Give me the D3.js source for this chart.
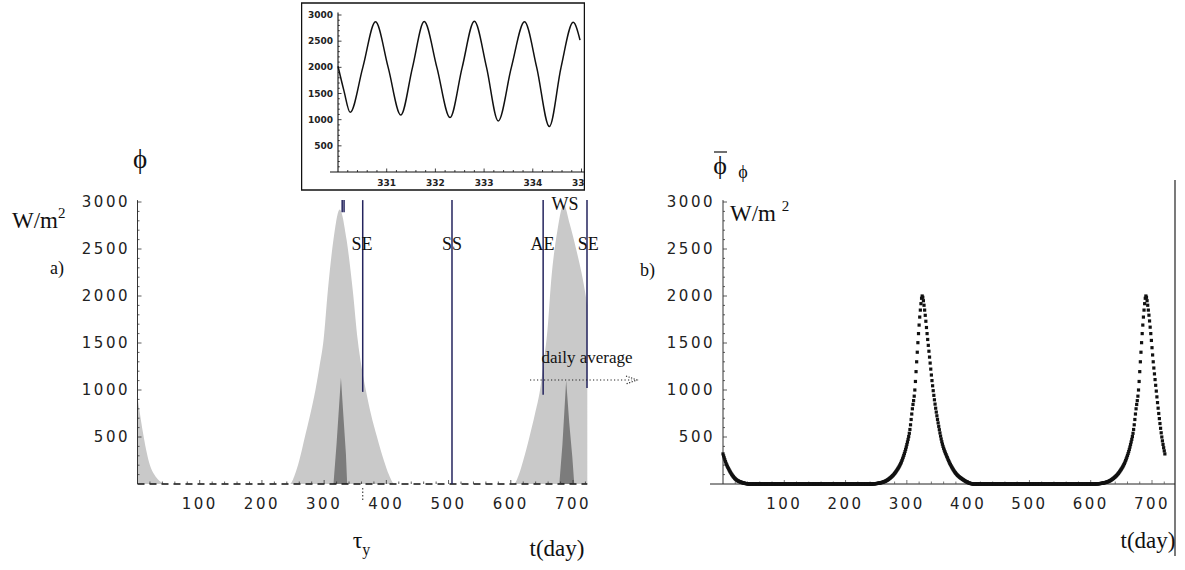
<!DOCTYPE html>
<html><head><meta charset="utf-8">
<script src="https://cdn.jsdelivr.net/npm/d3@7/dist/d3.min.js"></script>
<style>body{margin:0;background:#fff}svg{display:block}</style>
</head><body>
<svg id="c" width="1185" height="570"></svg>
<script>
// ---------------- DATA ----------------
// a) instantaneous flux envelope (light grey), [day, W/m2]
const instMax = [[0,925],[5,700],[10,500],[15,330],[20,200],[27,100],[35,35],[45,0],
  [245,0],[253,100],[260,250],[269,500],[278,750],[286,1000],[293,1270],[299,1530],[306,2060],[315,2600],[325,2920],
  [336,2600],[346,2060],[354,1530],[360,1250],[367,1000],[375,750],[385,500],[396,250],[404,100],[413,0],
  [605,0],[613,100],[620,250],[630,500],[639,750],[647,1000],[653,1300],[659,1640],[665,2170],[675,2700],[685,2970],
  [695,2760],[705,2500],[716,2170],[723,1900]];
// a) dark grey spikes
const darkPeak1 = [[315,0],[320,430],[327,1130],[331,720],[335,320],[337,0]];
const darkPeak2 = [[678,0],[683,420],[689,1100],[694,650],[699,280],[702,0]];
// b) daily average
const dailyAvg = [[0,320],[5,220],[10,150],[15,95],[20,55],[30,18],[45,0],
  [240,0],[255,10],[270,50],[282,130],[292,250],[300,420],[305,580],[309,800],[313,1000],[316,1300],[319,1600],[322,1850],[325,2000],
  [329,1850],[333,1600],[337,1350],[341,1100],[346,850],[351,650],[357,450],[366,280],[378,130],[392,45],[410,0],
  [605,0],[620,10],[635,50],[647,130],[657,250],[665,420],[670,580],[674,800],[678,1000],[681,1300],[684,1600],[687,1850],[690,2000],
  [694,1850],[698,1600],[702,1300],[706,1050],[711,750],[716,500],[721,320]];
// inset: hourly flux, days 330-335
const insetT = [330.0,330.12,330.25,330.51,330.77,331.03,331.29,331.53,331.77,332.03,332.3,332.55,332.8,333.05,333.29,333.56,333.83,334.08,334.34,334.58,334.83,334.97];
const insetV = [2020,1560,1140,2000,2870,2000,1090,2000,2875,2000,1040,2000,2880,2000,975,2000,2870,2000,870,2000,2860,2520];
// events (equinoxes / solstices) [day, bottom value, top value]
const eventLines = [[329,2890,3020],[332,2890,3020],[362,980,3020],[505.5,0,3020],[652,950,3020],[722.5,1020,3020]];
const eventLabels = [["SE",361,2560],["SS",505.5,2560],["AE",651,2560],["SE",724.5,2560],["WS",687,2985]];
const yTicks = [500,1000,1500,2000,2500,3000];
const xTicks = [100,200,300,400,500,600,700];
const insetYTicks = [500,1000,1500,2000,2500,3000];
const insetXTicks = [331,332,333,334,335];

// ---------------- SCALES ----------------
const svg = d3.select("#c");
const xL = d3.scaleLinear().domain([0,700]).range([137.5,573]);
const xR = d3.scaleLinear().domain([0,700]).range([723,1152]);
const yM = d3.scaleLinear().domain([0,3000]).range([484,202]);
const xI = d3.scaleLinear().domain([330,335]).range([338,581.5]);
const yI = d3.scaleLinear().domain([0,3000]).range([172,15]);

const SERIF = "'Liberation Serif','DejaVu Serif',serif";
const SANS = "'DejaVu Sans',sans-serif";
const LIGHT = "#c9c9c9", DARK = "#7c7c7c", NAVY = "#24245e";

// ---------------- PANEL a ----------------
const gA = svg.append("g");
const areaL = d3.area().x(d=>xL(d[0])).y0(yM(0)).y1(d=>yM(d[1])).curve(d3.curveMonotoneX);
gA.append("path").attr("d", areaL(instMax)).attr("fill", LIGHT);
const areaD = d3.area().x(d=>xL(d[0])).y0(yM(0)).y1(d=>yM(d[1]));
[darkPeak1, darkPeak2].forEach(p => gA.append("path").attr("d", areaD(p)).attr("fill", DARK));

// baseline (dashed, Mathematica style)
gA.append("line").attr("x1", xL(0)).attr("x2", xL(723)).attr("y1", yM(0)).attr("y2", yM(0))
  .attr("stroke", "#111").attr("stroke-width", 1.4).attr("stroke-dasharray", "7,5");
gA.selectAll(".xmin").data(d3.range(20,721,20)).join("line")
  .attr("x1", d=>xL(d)).attr("x2", d=>xL(d)).attr("y1", yM(0)).attr("y2", d=> yM(0) - (d%100===0?4:2.5))
  .attr("stroke", "#333").attr("stroke-width", 0.8);
gA.selectAll(".xl").data(xTicks).join("text")
  .attr("x", d=>xL(d)).attr("y", 509).attr("text-anchor","middle")
  .attr("font-family", SANS).attr("font-size", 15).attr("letter-spacing", "2.5px").attr("fill","#222")
  .text(d=>d);
gA.append("line").attr("x1", xL(0)).attr("x2", xL(0)).attr("y1", yM(0)).attr("y2", yM(3020))
  .attr("stroke", "#333").attr("stroke-width", 1);
gA.selectAll(".ymin").data(d3.range(100,3001,100)).join("line")
  .attr("x1", xL(0)).attr("x2", d=>xL(0) + (d%500===0?4:2)).attr("y1", d=>yM(d)).attr("y2", d=>yM(d))
  .attr("stroke", "#333").attr("stroke-width", 0.8);
gA.selectAll(".yl").data(yTicks).join("text")
  .attr("x", 130).attr("y", d=>yM(d)).attr("dy","0.36em").attr("text-anchor","end")
  .attr("font-family", SANS).attr("font-size", 15).attr("letter-spacing", "2.5px").attr("fill","#222")
  .text(d=>d);

// event lines
gA.selectAll(".ev").data(eventLines).join("line")
  .attr("x1", d=>xL(d[0])).attr("x2", d=>xL(d[0])).attr("y1", d=>yM(d[1])).attr("y2", d=>yM(d[2]))
  .attr("stroke", NAVY).attr("stroke-width", 1.5);
gA.selectAll(".evl").data(eventLabels).join("text")
  .attr("x", d=>xL(d[1])).attr("y", d=>yM(d[2])).attr("dy","0.35em").attr("text-anchor","middle")
  .attr("font-family", SERIF).attr("font-size", 18).attr("fill","#111").text(d=>d[0]);

// tau_y marker
gA.append("line").attr("x1", xL(362)).attr("x2", xL(362)).attr("y1", yM(0)+4).attr("y2", yM(0)+16)
  .attr("stroke","#444").attr("stroke-width",1.2).attr("stroke-dasharray","1.5,2");
const tau = gA.append("text").attr("x", xL(362)-10).attr("y", 548).attr("font-family", SERIF).attr("font-size", 24).attr("fill","#111");
tau.append("tspan").text("\u03C4");
tau.append("tspan").attr("font-size", 16).attr("dy", 7).text("y");
gA.append("text").attr("x", 557).attr("y", 556).attr("text-anchor","middle").attr("font-family", SERIF)
  .attr("font-size", 23).attr("fill","#111").text("t(day)");

// labels
gA.append("text").attr("x", 140).attr("y", 168).attr("text-anchor","middle").attr("font-family", SERIF).attr("font-size", 27).attr("fill","#111").text("\u03D5");
const wl = gA.append("text").attr("x", 12).attr("y", 228).attr("font-family", SERIF).attr("font-size", 23).attr("fill","#111");
wl.append("tspan").text("W/m");
wl.append("tspan").attr("font-size", 15).attr("dy", -10).text("2");
gA.append("text").attr("x", 50).attr("y", 274).attr("font-family", SERIF).attr("font-size", 18).attr("fill","#111").text("a)");

// daily average arrow
gA.append("text").attr("x", 587).attr("y", 363).attr("text-anchor","middle").attr("font-family", SERIF).attr("font-size", 17).attr("fill","#111").text("daily average");
gA.append("line").attr("x1", 530).attr("x2", 632).attr("y1", 380).attr("y2", 380)
  .attr("stroke","#222").attr("stroke-width",1.2).attr("stroke-dasharray","1.2,2.3");
gA.append("path").attr("d","M626,376 L637,380 L626,384").attr("fill","none")
  .attr("stroke","#222").attr("stroke-width",1.1).attr("stroke-dasharray","1.2,1.5");

// ---------------- INSET ----------------
svg.append("clipPath").attr("id","ic").append("rect").attr("x",301).attr("y",2).attr("width",284).attr("height",189);
const gI = svg.append("g").attr("clip-path","url(#ic)");
gI.append("rect").attr("x",301.5).attr("y",3).attr("width",283).attr("height",187)
  .attr("fill","#fff").attr("stroke","#111").attr("stroke-width",1.5);
gI.append("line").attr("x1",330).attr("x2",585).attr("y1",yI(0)).attr("y2",yI(0)).attr("stroke","#111").attr("stroke-width",1.1);
gI.append("line").attr("x1",xI(330)).attr("x2",xI(330)).attr("y1",yI(0)).attr("y2",yI(3050)).attr("stroke","#111").attr("stroke-width",1.1);
gI.selectAll(".ixm").data(d3.range(330.2,335.01,0.2)).join("line")
  .attr("x1",d=>xI(d)).attr("x2",d=>xI(d)).attr("y1",yI(0)).attr("y2",d=>yI(0)-(Math.abs(d-Math.round(d))<0.01?3.5:2))
  .attr("stroke","#111").attr("stroke-width",0.8);
gI.selectAll(".iym").data(d3.range(100,3001,100)).join("line")
  .attr("x1",xI(330)).attr("x2",d=>xI(330)+(d%500===0?3.5:1.8)).attr("y1",d=>yI(d)).attr("y2",d=>yI(d))
  .attr("stroke","#111").attr("stroke-width",0.8);
gI.selectAll(".ixl").data(insetXTicks).join("text")
  .attr("x",d=>xI(d)).attr("y",186).attr("text-anchor","middle").attr("font-family",SANS)
  .attr("font-size",9).attr("font-weight","bold").attr("fill","#222").text(d=>d);
gI.selectAll(".iyl").data(insetYTicks).join("text")
  .attr("x",333).attr("y",d=>yI(d)).attr("dy","0.35em").attr("text-anchor","end").attr("font-family",SANS)
  .attr("font-size",9).attr("font-weight","bold").attr("fill","#222").text(d=>d);
const insetPts = insetT.map((t,i)=>[t,insetV[i]]);
gI.append("path").attr("d", d3.line().x(d=>xI(d[0])).y(d=>yI(d[1])).curve(d3.curveMonotoneX)(insetPts))
  .attr("fill","none").attr("stroke","#111").attr("stroke-width",1.5);

// ---------------- PANEL b ----------------
const gB = svg.append("g");
gB.append("line").attr("x1",710).attr("x2",1175).attr("y1",yM(0)).attr("y2",yM(0)).attr("stroke","#222").attr("stroke-width",1);
gB.append("line").attr("x1",xR(0)).attr("x2",xR(0)).attr("y1",yM(0)).attr("y2",yM(3020)).attr("stroke","#333").attr("stroke-width",1);
gB.append("line").attr("x1",1175).attr("x2",1175).attr("y1",180).attr("y2",556).attr("stroke","#222").attr("stroke-width",1.2);
gB.selectAll(".bxm").data(d3.range(20,721,20)).join("line")
  .attr("x1",d=>xR(d)).attr("x2",d=>xR(d)).attr("y1",yM(0)).attr("y2",d=>yM(0)-(d%100===0?4:2.5))
  .attr("stroke","#555").attr("stroke-width",0.8);
gB.selectAll(".bym").data(d3.range(100,3001,100)).join("line")
  .attr("x1",xR(0)).attr("x2",d=>xR(0)+(d%500===0?4:2)).attr("y1",d=>yM(d)).attr("y2",d=>yM(d))
  .attr("stroke","#333").attr("stroke-width",0.8);
gB.selectAll(".bxl").data(xTicks).join("text")
  .attr("x",d=>xR(d)).attr("y",509).attr("text-anchor","middle")
  .attr("font-family",SANS).attr("font-size",15).attr("letter-spacing","2.5px").attr("fill","#222").text(d=>d);
gB.selectAll(".byl").data(yTicks).join("text")
  .attr("x",715).attr("y",d=>yM(d)).attr("dy","0.36em").attr("text-anchor","end")
  .attr("font-family",SANS).attr("font-size",15).attr("letter-spacing","2.5px").attr("fill","#222").text(d=>d);

// daily-average curve drawn as daily dots along the curve
const avgPath = gB.append("path")
  .attr("d", d3.line().x(d=>xR(d[0])).y(d=>yM(d[1])).curve(d3.curveMonotoneX)(dailyAvg))
  .attr("fill","none").attr("stroke","none");
const node = avgPath.node(), L = node.getTotalLength();
function yAt(px){ let lo=0, hi=L; for(let i=0;i<26;i++){ const m=(lo+hi)/2; if(node.getPointAtLength(m).x<px) lo=m; else hi=m; } return node.getPointAtLength((lo+hi)/2).y; }
const dayGrid = d3.range(dailyAvg[0][0], dailyAvg[dailyAvg.length-1][0]+0.01, 1);
gB.selectAll(".dot").data(dayGrid).join("rect")
  .attr("x",d=>xR(d)-1.6).attr("y",d=>yAt(xR(d))-1.6).attr("width",3.2).attr("height",3.2).attr("fill","#111");

gB.append("text").attr("x",1148).attr("y",548).attr("text-anchor","middle").attr("font-family",SERIF)
  .attr("font-size",23).attr("fill","#111").text("t(day)");
gB.append("text").attr("x",640).attr("y",276).attr("font-family",SERIF).attr("font-size",18).attr("fill","#111").text("b)");
gB.append("text").attr("x",720).attr("y",174).attr("text-anchor","middle").attr("font-family",SERIF).attr("font-size",26).attr("fill","#111").text("\u03D5");
gB.append("line").attr("x1",714).attr("x2",727).attr("y1",152).attr("y2",152).attr("stroke","#111").attr("stroke-width",1.2);
gB.append("text").attr("x",743).attr("y",178).attr("text-anchor","middle").attr("font-family",SERIF).attr("font-size",18).attr("fill","#111").text("\u03D5");
const wr = gB.append("text").attr("x",730).attr("y",221).attr("font-family",SERIF).attr("font-size",23).attr("fill","#111");
wr.append("tspan").text("W/m ");
wr.append("tspan").attr("font-size",15).attr("dy",-10).text("2");
</script>
</body></html>
